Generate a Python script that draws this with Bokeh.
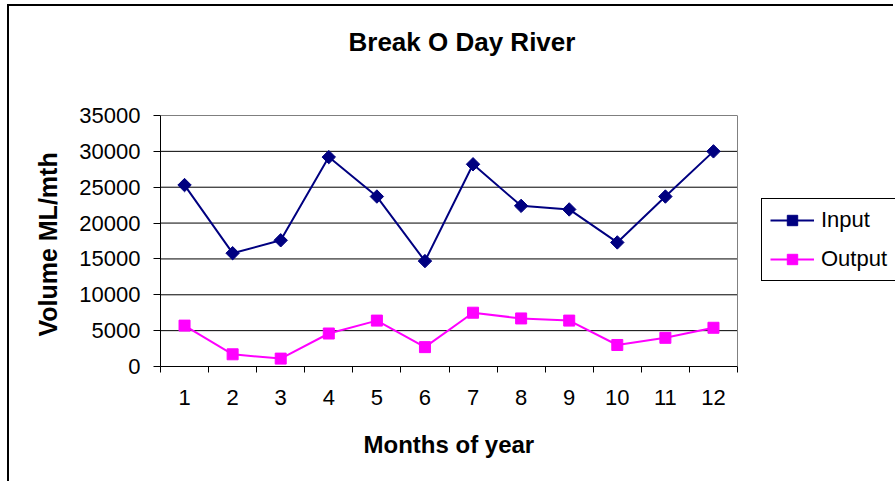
import math
from bokeh.plotting import figure
from bokeh.models import FixedTicker, Legend, LegendItem, Range1d, Span, Title
from bokeh.embed import file_html
from bokeh.resources import INLINE

months = list(range(1, 13))
month_labels = [str(m) for m in months]
input_vol = [25300, 15800, 17600, 29200, 23700, 14700, 28200, 22400, 21900, 17300, 23700, 30000]
output_vol = [5700, 1700, 1100, 4600, 6400, 2700, 7500, 6700, 6400, 3000, 4000, 5400]
y_ticks = [0, 5000, 10000, 15000, 20000, 25000, 30000, 35000]

FONT = "Liberation Sans"

# layout geometry (pixels)
FIG_W, FIG_H = 886, 477
LEFT, TOP, BOTTOM = 151, 109, 117
PLOT_W = 577          # width of the visible plot area
x_lo = months[0] - 0.5
x_hi = months[-1] + 0.5
unit = PLOT_W / (x_hi - x_lo)
frame_w = FIG_W - LEFT
x_end = x_lo + frame_w / unit

p = figure(width=FIG_W, height=FIG_H, output_backend="svg", toolbar_location=None,
           x_range=Range1d(x_lo, x_end), y_range=Range1d(0, 35000),
           min_border_left=LEFT, min_border_right=0,
           min_border_top=TOP, min_border_bottom=BOTTOM)
p.styles = {"margin-left": "7px", "margin-top": "4px",
            "border-left": "2px solid black", "border-top": "2px solid black"}

p.title.text = "Break O Day River"
p.title.text_font = FONT
p.title.text_font_size = "26px"
p.title.text_font_style = "bold"
p.title.text_color = "black"
p.title.align = "left"
p.title.offset = 188
p.title.vertical_align = "bottom"
p.title.standoff = 0

# empty spacer between title and plot area
p.add_layout(Title(text=" ", text_font=FONT, text_font_size="26px", standoff=27), "above")

p.outline_line_color = None
p.background_fill_color = "white"
p.border_fill_color = "white"
p.xgrid.visible = False
p.ygrid.visible = False

# horizontal gridlines across the plot area only
p.segment(x0=[x_lo] * len(y_ticks), y0=y_ticks, x1=[x_hi] * len(y_ticks), y1=y_ticks,
          line_color="black", line_width=1)
p.add_layout(Span(location=x_hi, dimension="height", line_color="#808080", line_width=1))

xa = p.xaxis[0]
xa.bounds = (x_lo, x_hi)
xa.ticker = FixedTicker(ticks=months, minor_ticks=[m - 0.5 for m in months] + [x_hi])
xa.major_label_overrides = {m: l for m, l in zip(months, month_labels)}
xa.major_tick_line_color = None
xa.minor_tick_line_color = "black"
xa.minor_tick_out = 6
xa.minor_tick_in = 0
xa.axis_line_color = "black"
xa.major_label_text_font = FONT
xa.major_label_text_font_size = "22px"
xa.major_label_text_color = "black"
xa.major_label_standoff = 17

# x axis title, centred under the visible plot area
p.add_layout(Title(text="Months of year", text_font=FONT, text_font_size="24px",
                   text_font_style="bold", text_color="black", align="left",
                   offset=203, vertical_align="top", standoff=46), "below")

ya = p.yaxis[0]
ya.ticker = FixedTicker(ticks=y_ticks)
ya.major_tick_out = 7
ya.major_tick_in = 0
ya.major_tick_line_color = "black"
ya.minor_tick_line_color = None
ya.axis_line_color = "black"
ya.major_label_text_font = FONT
ya.major_label_text_font_size = "22px"
ya.major_label_text_color = "black"
ya.major_label_standoff = 13
ya.axis_label = "Volume  ML/mth"
ya.axis_label_text_font = FONT
ya.axis_label_text_font_size = "25px"
ya.axis_label_text_font_style = "bold"
ya.axis_label_text_color = "black"
ya.axis_label_standoff = 14

l1 = p.line(months, input_vol, line_color="#000080", line_width=2)
s1 = p.scatter(months, input_vol, marker="square", angle=math.pi / 4, size=9.5,
               fill_color="#000080", line_color="#000080")
l2 = p.line(months, output_vol, line_color="#FF00FF", line_width=2)
s2 = p.scatter(months, output_vol, marker="square", size=11,
               fill_color="#FF00FF", line_color="#FF00FF")

legend = Legend(items=[LegendItem(label="Input", renderers=[l1, s1]),
                       LegendItem(label="Output", renderers=[l2, s2])],
                location=(601, 85), margin=0, padding=8, spacing=13,
                glyph_width=44, glyph_height=26, label_height=26, label_standoff=7,
                label_width=80,
                label_text_font=FONT, label_text_font_size="22px",
                label_text_color="black",
                border_line_color="black", border_line_width=1, border_line_alpha=1,
                background_fill_color="white", background_fill_alpha=1)
p.add_layout(legend, "center")

open("out.html", "w").write(file_html(p, INLINE))
